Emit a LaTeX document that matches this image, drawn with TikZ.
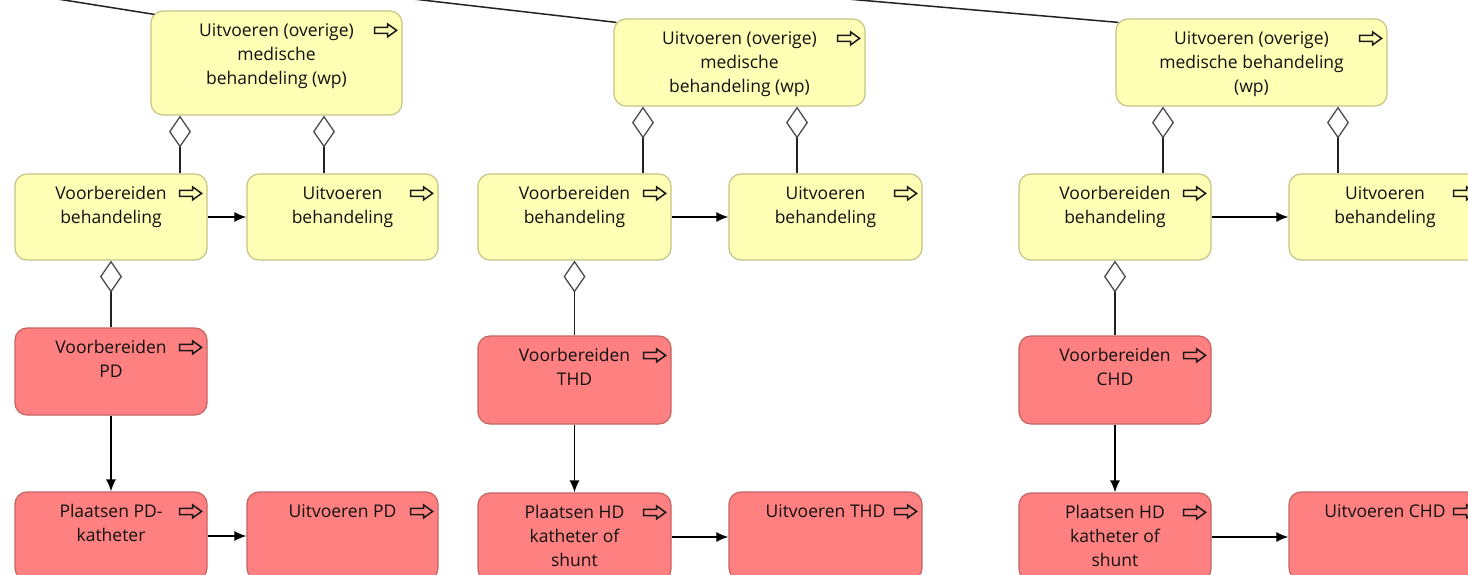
\documentclass[tikz,border=0pt]{standalone}
\usepackage{fontspec}
\setmainfont{Open Sans}
\usetikzlibrary{arrows.meta,calc}

\definecolor{busfill}{HTML}{FFFFB5}
\definecolor{busline}{HTML}{C4C486}
\definecolor{appfill}{HTML}{FF8080}
\definecolor{appline}{HTML}{C46464}
\definecolor{conn}{HTML}{222222}
\definecolor{txtcol}{HTML}{111111}

% activity box: name, style, left, top, width, height, text
\newcommand\actbox[7]{%
  \node[#2, minimum width=#5, minimum height=#6] (#1) at ({#3+#5/2},{#4+#6/2})
    {\parbox[c][\dimexpr#6pt-18pt\relax][t]{\dimexpr#5pt-12pt\relax}{\centering\strut #7}};
  \draw[icon] ($(#1.north east)+(-6,20)$) -- ++(-9,-6.5) -- ++(0,3.4) -- ++(-13,0)
    -- ++(0,6.2) -- ++(13,0) -- ++(0,3.4) -- cycle;
}

\begin{document}
\begin{tikzpicture}[x=1pt,y=-1pt,
  basebox/.style={rectangle, rounded corners=12pt, inner sep=0pt, line width=1.2pt,
    text=txtcol, font=\fontsize{17.5}{24}\selectfont},
  busbox/.style={basebox, draw=busline, fill=busfill},
  appbox/.style={basebox, draw=appline, fill=appfill},
  icon/.style={draw=black!90, line width=1.5pt, line join=miter},
  agg/.style={draw=conn, line width=1.5pt,
    -{Diamond[open, length=32pt, width=22pt, line width=1.3pt, color=black!70]}},
  flow/.style={draw=black, line width=1.5pt, -{Latex[length=12pt, width=10pt]}}]

\useasboundingbox (0,0) rectangle (1468,575);
\fill[white] (0,0) rectangle (1468,575);
\clip (0,0) rectangle (1468,575);

% parent process outside the visible area
\coordinate (parent) at (-880,-150);

% column 1: PD
\actbox{A1}{busbox}{151}{11}{251}{104}{Uitvoeren (overige)\\medische\\behandeling (wp)}
\actbox{B1}{busbox}{15}{174}{192}{86}{Voorbereiden\\behandeling}
\actbox{C1}{busbox}{247}{174}{191}{86}{Uitvoeren\\behandeling}
\actbox{D1}{appbox}{15}{328}{192}{87}{Voorbereiden\\PD}
\actbox{E1}{appbox}{15}{492}{192}{88}{Plaatsen PD-\\katheter}
\actbox{F1}{appbox}{247}{492}{191}{88}{Uitvoeren PD}

% column 2: THD
\actbox{A2}{busbox}{614}{19}{251}{87}{Uitvoeren (overige)\\medische\\behandeling (wp)}
\actbox{B2}{busbox}{478}{174}{193}{86}{Voorbereiden\\behandeling}
\actbox{C2}{busbox}{729}{174}{193}{86}{Uitvoeren\\behandeling}
\actbox{D2}{appbox}{478}{336}{193}{88}{Voorbereiden\\THD}
\actbox{E2}{appbox}{478}{493}{193}{88}{Plaatsen HD\\katheter of\\shunt}
\actbox{F2}{appbox}{729}{492}{193}{88}{Uitvoeren THD}

% column 3: CHD
\actbox{A3}{busbox}{1116}{19}{271}{87}{Uitvoeren (overige)\\medische behandeling\\(wp)}
\actbox{B3}{busbox}{1019}{174}{192}{86}{Voorbereiden\\behandeling}
\actbox{C3}{busbox}{1289}{174}{192}{86}{Uitvoeren\\behandeling}
\actbox{D3}{appbox}{1019}{336}{192}{88}{Voorbereiden\\CHD}
\actbox{E3}{appbox}{1019}{493}{192}{88}{Plaatsen HD\\katheter of\\shunt}
\actbox{F3}{appbox}{1289}{492}{192}{88}{Uitvoeren CHD}

% attachment columns of the composition links
\coordinate (k1a) at (180,0);
\coordinate (k1b) at (324,0);
\coordinate (k2a) at (643,0);
\coordinate (k2b) at (797,0);
\coordinate (k3a) at (1163,0);
\coordinate (k3b) at (1338,0);

% links from the parent process
\draw[conn, line width=1.5pt] (parent) -- ($(A1.north west)+(4,4)$);
\draw[conn, line width=1.5pt] (parent) -- ($(A2.north west)+(3,4)$);
\draw[conn, line width=1.5pt] (parent) -- ($(A3.north west)+(3,4)$);

% compositions
\draw[agg] (B1.north -| k1a) -- (A1.south -| k1a);
\draw[agg] (C1.north -| k1b) -- (A1.south -| k1b);
\draw[agg] (D1.north) -- (B1.south);
\draw[agg] (B2.north -| k2a) -- (A2.south -| k2a);
\draw[agg] (C2.north -| k2b) -- (A2.south -| k2b);
\draw[agg] (D2.north) -- (B2.south);
\draw[agg] (B3.north -| k3a) -- (A3.south -| k3a);
\draw[agg] (C3.north -| k3b) -- (A3.south -| k3b);
\draw[agg] (D3.north) -- (B3.south);

% triggers
\draw[flow] (B1.east) -- (C1.west |- B1.east);
\draw[flow] (D1.south) -- (E1.north);
\draw[flow] (E1.east) -- (F1.west |- E1.east);
\draw[flow] (B2.east) -- (C2.west |- B2.east);
\draw[flow] (D2.south) -- (E2.north);
\draw[flow] (E2.east) -- (F2.west |- E2.east);
\draw[flow] (B3.east) -- (C3.west |- B3.east);
\draw[flow] (D3.south) -- (E3.north);
\draw[flow] (E3.east) -- (F3.west |- E3.east);
\end{tikzpicture}
\end{document}
